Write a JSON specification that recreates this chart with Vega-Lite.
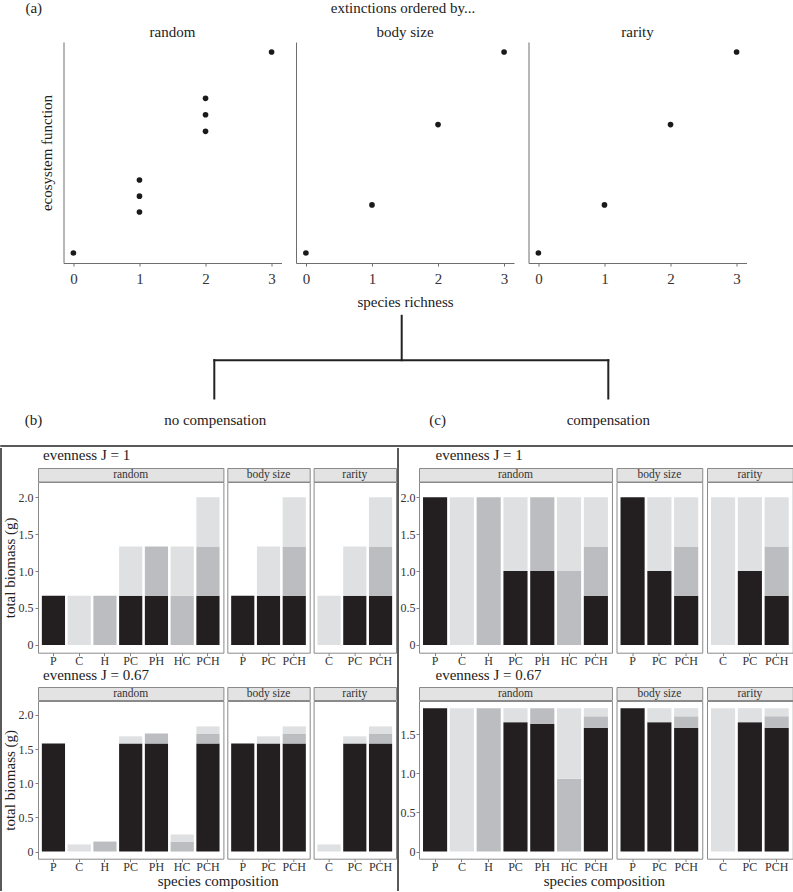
{
"$schema": "https://vega.github.io/schema/vega-lite/v6.json",
"padding": 0,
"background": "white",
"config": {
  "font": "Liberation Serif",
  "view": {"stroke": null},
  "title": {"fontSize": 15, "fontWeight": "normal", "color": "#222", "font": "Liberation Serif"},
  "axis": {"labelFont": "Liberation Serif", "titleFont": "Liberation Serif", "labelColor": "#333", "titleColor": "#222", "titleFontWeight": "normal", "grid": false},
  "text": {"font": "Liberation Serif"}
},
"datasets": {
  "scatter": [
    {"order": "random", "richness": 0, "ef": 0},
    {"order": "random", "richness": 1, "ef": 0.611},
    {"order": "random", "richness": 1, "ef": 0.848},
    {"order": "random", "richness": 1, "ef": 1.089},
    {"order": "random", "richness": 2, "ef": 1.816},
    {"order": "random", "richness": 2, "ef": 2.063},
    {"order": "random", "richness": 2, "ef": 2.309},
    {"order": "random", "richness": 3, "ef": 3},
    {"order": "body size", "richness": 0, "ef": 0},
    {"order": "body size", "richness": 1, "ef": 0.717},
    {"order": "body size", "richness": 2, "ef": 1.917},
    {"order": "body size", "richness": 3, "ef": 3},
    {"order": "rarity", "richness": 0, "ef": 0},
    {"order": "rarity", "richness": 1, "ef": 0.717},
    {"order": "rarity", "richness": 2, "ef": 1.917},
    {"order": "rarity", "richness": 3, "ef": 3}
  ],
  "border": [
    {"x": 0, "top": -20, "bottom": 423}
  ],
  "biomass": [
    {"box": "b", "J": "1", "comp": "P", "sp": "P", "v": 0.6667},
    {"box": "b", "J": "1", "comp": "C", "sp": "C", "v": 0.6667},
    {"box": "b", "J": "1", "comp": "H", "sp": "H", "v": 0.6667},
    {"box": "b", "J": "1", "comp": "PC", "sp": "P", "v": 0.6667},
    {"box": "b", "J": "1", "comp": "PC", "sp": "C", "v": 0.6667},
    {"box": "b", "J": "1", "comp": "PH", "sp": "P", "v": 0.6667},
    {"box": "b", "J": "1", "comp": "PH", "sp": "H", "v": 0.6667},
    {"box": "b", "J": "1", "comp": "HC", "sp": "H", "v": 0.6667},
    {"box": "b", "J": "1", "comp": "HC", "sp": "C", "v": 0.6667},
    {"box": "b", "J": "1", "comp": "PCH", "sp": "P", "v": 0.6667},
    {"box": "b", "J": "1", "comp": "PCH", "sp": "H", "v": 0.6667},
    {"box": "b", "J": "1", "comp": "PCH", "sp": "C", "v": 0.6667},
    {"box": "b", "J": "0.67", "comp": "P", "sp": "P", "v": 1.583},
    {"box": "b", "J": "0.67", "comp": "C", "sp": "C", "v": 0.104},
    {"box": "b", "J": "0.67", "comp": "H", "sp": "H", "v": 0.146},
    {"box": "b", "J": "0.67", "comp": "PC", "sp": "P", "v": 1.583},
    {"box": "b", "J": "0.67", "comp": "PC", "sp": "C", "v": 0.104},
    {"box": "b", "J": "0.67", "comp": "PH", "sp": "P", "v": 1.583},
    {"box": "b", "J": "0.67", "comp": "PH", "sp": "H", "v": 0.146},
    {"box": "b", "J": "0.67", "comp": "HC", "sp": "H", "v": 0.146},
    {"box": "b", "J": "0.67", "comp": "HC", "sp": "C", "v": 0.104},
    {"box": "b", "J": "0.67", "comp": "PCH", "sp": "P", "v": 1.583},
    {"box": "b", "J": "0.67", "comp": "PCH", "sp": "H", "v": 0.146},
    {"box": "b", "J": "0.67", "comp": "PCH", "sp": "C", "v": 0.104},
    {"box": "c", "J": "1", "comp": "P", "sp": "P", "v": 2},
    {"box": "c", "J": "1", "comp": "C", "sp": "C", "v": 2},
    {"box": "c", "J": "1", "comp": "H", "sp": "H", "v": 2},
    {"box": "c", "J": "1", "comp": "PC", "sp": "P", "v": 1},
    {"box": "c", "J": "1", "comp": "PC", "sp": "C", "v": 1},
    {"box": "c", "J": "1", "comp": "PH", "sp": "P", "v": 1},
    {"box": "c", "J": "1", "comp": "PH", "sp": "H", "v": 1},
    {"box": "c", "J": "1", "comp": "HC", "sp": "H", "v": 1},
    {"box": "c", "J": "1", "comp": "HC", "sp": "C", "v": 1},
    {"box": "c", "J": "1", "comp": "PCH", "sp": "P", "v": 0.6667},
    {"box": "c", "J": "1", "comp": "PCH", "sp": "H", "v": 0.6667},
    {"box": "c", "J": "1", "comp": "PCH", "sp": "C", "v": 0.6667},
    {"box": "c", "J": "0.67", "comp": "P", "sp": "P", "v": 1.833},
    {"box": "c", "J": "0.67", "comp": "C", "sp": "C", "v": 1.833},
    {"box": "c", "J": "0.67", "comp": "H", "sp": "H", "v": 1.833},
    {"box": "c", "J": "0.67", "comp": "PC", "sp": "P", "v": 1.654},
    {"box": "c", "J": "0.67", "comp": "PC", "sp": "C", "v": 0.179},
    {"box": "c", "J": "0.67", "comp": "PH", "sp": "P", "v": 1.633},
    {"box": "c", "J": "0.67", "comp": "PH", "sp": "H", "v": 0.2},
    {"box": "c", "J": "0.67", "comp": "HC", "sp": "H", "v": 0.931},
    {"box": "c", "J": "0.67", "comp": "HC", "sp": "C", "v": 0.902},
    {"box": "c", "J": "0.67", "comp": "PCH", "sp": "P", "v": 1.583},
    {"box": "c", "J": "0.67", "comp": "PCH", "sp": "H", "v": 0.146},
    {"box": "c", "J": "0.67", "comp": "PCH", "sp": "C", "v": 0.104}
  ]
},
"spacing": 0,
"vconcat": [
  {
    "width": 793, "height": 25,
    "data": {"values": [{"label": "(a)", "pos": 32.8}, {"label": "extinctions ordered by...", "pos": 402}]},
    "mark": {"type": "text", "fontSize": 15, "baseline": "alphabetic", "align": "center", "color": "#222", "font": "Liberation Serif"},
    "encoding": {
      "x": {"field": "pos", "type": "quantitative", "scale": {"domain": [0, 793], "nice": false, "zero": false}, "axis": null},
      "text": {"field": "label", "type": "nominal"}
    }
  },
  {
    "spacing": 14.5,
    "hconcat": [
      {"width": 22.3, "height": 1, "data": {"values": []}, "mark": "point"},
      {
        "width": 218, "height": 221,
        "title": {"text": "random", "anchor": "middle", "offset": 2, "font": "Liberation Serif"},
        "data": {"name": "scatter"},
        "transform": [{"filter": "datum.order == 'random'"}],
        "mark": {"type": "circle", "size": 32, "opacity": 1, "color": "#1a1a1a"},
        "encoding": {
          "x": {"field": "richness", "type": "quantitative", "scale": {"domain": [-0.15, 3.15], "nice": false, "zero": false},
                "axis": {"values": [0, 1, 2, 3], "format": "d", "title": null, "domainColor": "#6e6e6e", "tickColor": "#6e6e6e", "tickSize": 3, "labelFontSize": 15, "labelPadding": 5}},
          "y": {"field": "ef", "type": "quantitative", "scale": {"domain": [-0.15, 3.15], "nice": false, "zero": false},
                "axis": {"title": "ecosystem function", "labels": false, "ticks": false, "domainColor": "#6e6e6e", "titleFontSize": 15, "titlePadding": 9.2}}
        }
      },
      {
        "width": 218, "height": 221,
        "title": {"text": "body size", "anchor": "middle", "offset": 2, "font": "Liberation Serif"},
        "data": {"name": "scatter"},
        "transform": [{"filter": "datum.order == 'body size'"}],
        "mark": {"type": "circle", "size": 32, "opacity": 1, "color": "#1a1a1a"},
        "encoding": {
          "x": {"field": "richness", "type": "quantitative", "scale": {"domain": [-0.15, 3.15], "nice": false, "zero": false},
                "axis": {"values": [0, 1, 2, 3], "format": "d", "title": "species richness", "titleFontSize": 15, "titlePadding": 8.85, "domainColor": "#6e6e6e", "tickColor": "#6e6e6e", "tickSize": 3, "labelFontSize": 15, "labelPadding": 5}},
          "y": {"field": "ef", "type": "quantitative", "scale": {"domain": [-0.15, 3.15], "nice": false, "zero": false},
                "axis": {"title": null, "labels": false, "ticks": false, "domainColor": "#6e6e6e"}}
        }
      },
      {
        "width": 218, "height": 221,
        "title": {"text": "rarity", "anchor": "middle", "offset": 2, "font": "Liberation Serif"},
        "data": {"name": "scatter"},
        "transform": [{"filter": "datum.order == 'rarity'"}],
        "mark": {"type": "circle", "size": 32, "opacity": 1, "color": "#1a1a1a"},
        "encoding": {
          "x": {"field": "richness", "type": "quantitative", "scale": {"domain": [-0.15, 3.15], "nice": false, "zero": false},
                "axis": {"values": [0, 1, 2, 3], "format": "d", "title": null, "domainColor": "#6e6e6e", "tickColor": "#6e6e6e", "tickSize": 3, "labelFontSize": 15, "labelPadding": 5}},
          "y": {"field": "ef", "type": "quantitative", "scale": {"domain": [-0.15, 3.15], "nice": false, "zero": false},
                "axis": {"title": null, "labels": false, "ticks": false, "domainColor": "#6e6e6e"}}
        }
      }
    ]
  },
  {
    "width": 793, "height": 135,
    "layer": [
      {
        "data": {"values": [
          {"x": 400.7, "x2": 400.7, "y": 5.8, "y2": 50.2},
          {"x": 213.3, "x2": 607.3, "y": 50.2, "y2": 50.2},
          {"x": 213.3, "x2": 213.3, "y": 50.2, "y2": 88.5},
          {"x": 607.3, "x2": 607.3, "y": 50.2, "y2": 88.5}
        ]},
        "mark": {"type": "rule", "strokeWidth": 2, "color": "#222", "strokeCap": "square"},
        "encoding": {
          "x": {"field": "x", "type": "quantitative", "scale": {"domain": [0, 793], "nice": false, "zero": false}, "axis": null},
          "x2": {"field": "x2"},
          "y": {"field": "y", "type": "quantitative", "scale": {"domain": [0, 135], "reverse": true, "nice": false, "zero": false}, "axis": null},
          "y2": {"field": "y2"}
        }
      },
      {
        "data": {"values": [
          {"label": "(b)", "x": 32.5, "y": 115.2},
          {"label": "no compensation", "x": 214.2, "y": 115.2},
          {"label": "(c)", "x": 436.7, "y": 115.2},
          {"label": "compensation", "x": 607.3, "y": 115.2}
        ]},
        "mark": {"type": "text", "fontSize": 15, "baseline": "alphabetic", "align": "center", "color": "#222", "font": "Liberation Serif"},
        "encoding": {
          "x": {"field": "x", "type": "quantitative", "axis": null},
          "y": {"field": "y", "type": "quantitative", "axis": null},
          "text": {"field": "label", "type": "nominal"}
        }
      }
    ]
  },
  {
    "spacing": 0,
    "vconcat": [
      {"width": 793, "height": 0.01, "data": {"values": []}, "mark": "point", "view": {"stroke": "#222", "strokeWidth": 1.5}},
      {
        "spacing": 0,
        "hconcat": [
          {"width": 0.01, "height": 423, "data": {"name": "border"}, "mark": {"type": "rule", "strokeWidth": 1.5, "color": "#222"},
           "encoding": {"x": {"field": "x", "type": "quantitative", "scale": {"domain": [0, 1], "nice": false, "zero": false}, "axis": null},
                        "y": {"field": "top", "type": "quantitative", "scale": {"domain": [0, 423], "reverse": true, "nice": false, "zero": false}, "axis": null},
                        "y2": {"field": "bottom"}}},
          {
            "title": {"text": "species composition", "orient": "bottom", "anchor": "middle", "dx": 19, "offset": 1, "font": "Liberation Serif"},
            "spacing": 0,
            "vconcat": [
              {
                "title": {"text": "evenness J = 1", "anchor": "start", "dx": 41, "offset": 4.5, "font": "Liberation Serif"},
                "spacing": 2.3,
                "hconcat": [
                  {"spacing": -1, "vconcat": [
                    {"width": 185.4, "height": 13.5, "view": {"fill": "#e3e3e3", "stroke": "#8a8a8a"}, "data": {"values": [{"order": "random"}]}, "mark": {"type": "text", "fontSize": 11.5, "color": "#333", "font": "Liberation Serif"}, "encoding": {"text": {"field": "order", "type": "nominal"}}},
                    {"width": 185.4, "height": 170.7, "view": {"stroke": "#8a8a8a"}, "data": {"name": "biomass"},
                     "transform": [{"filter": "datum.box == 'b' && datum.J == '1'"}],
                     "mark": "bar",
                     "encoding": {
                       "x": {"field": "comp", "type": "nominal", "scale": {"domain": ["P", "C", "H", "PC", "PH", "HC", "PCH"], "paddingInner": 0.1, "paddingOuter": 0.15}, "axis": {"title": null, "domain": false, "tickColor": "#808080", "tickSize": 3, "labelPadding": 0, "labelAngle": 0, "labelFontSize": 12}},
                       "y": {"field": "v", "type": "quantitative", "stack": "zero", "scale": {"domain": [-0.105, 2.205], "nice": false, "zero": false}, "axis": {"title": "total biomass (g)", "titleFontSize": 15, "titlePadding": 0.5, "values": [0, 0.5, 1, 1.5, 2], "labelExpr": "datum.value == 0 ? '0' : format(datum.value, '.1f')", "domain": false, "tickColor": "#808080", "tickSize": 3, "labelPadding": 2, "labelFontSize": 12}},
                       "color": {"field": "sp", "type": "nominal", "scale": {"domain": ["P", "H", "C"], "range": ["#231f20", "#bcbdc0", "#dfe0e2"]}, "legend": null},
                       "order": {"field": "sp", "sort": "descending"}
                     }}
                  ]},
                  {"spacing": -1, "vconcat": [
                    {"width": 82.4, "height": 13.5, "view": {"fill": "#e3e3e3", "stroke": "#8a8a8a"}, "data": {"values": [{"order": "body size"}]}, "mark": {"type": "text", "fontSize": 11.5, "color": "#333", "font": "Liberation Serif"}, "encoding": {"text": {"field": "order", "type": "nominal"}}},
                    {"width": 82.4, "height": 170.7, "view": {"stroke": "#8a8a8a"}, "data": {"name": "biomass"},
                     "transform": [{"filter": "datum.box == 'b' && datum.J == '1'"}, {"filter": {"field": "comp", "oneOf": ["P", "PC", "PCH"]}}],
                     "mark": "bar",
                     "encoding": {
                       "x": {"field": "comp", "type": "nominal", "scale": {"domain": ["P", "PC", "PCH"], "paddingInner": 0.1, "paddingOuter": 0.15}, "axis": {"title": null, "domain": false, "tickColor": "#808080", "tickSize": 3, "labelPadding": 0, "labelAngle": 0, "labelFontSize": 12}},
                       "y": {"field": "v", "type": "quantitative", "stack": "zero", "scale": {"domain": [-0.105, 2.205], "nice": false, "zero": false}, "axis": null},
                       "color": {"field": "sp", "type": "nominal", "scale": {"domain": ["P", "H", "C"], "range": ["#231f20", "#bcbdc0", "#dfe0e2"]}, "legend": null},
                       "order": {"field": "sp", "sort": "descending"}
                     }}
                  ]},
                  {"spacing": -1, "vconcat": [
                    {"width": 82.4, "height": 13.5, "view": {"fill": "#e3e3e3", "stroke": "#8a8a8a"}, "data": {"values": [{"order": "rarity"}]}, "mark": {"type": "text", "fontSize": 11.5, "color": "#333", "font": "Liberation Serif"}, "encoding": {"text": {"field": "order", "type": "nominal"}}},
                    {"width": 82.4, "height": 170.7, "view": {"stroke": "#8a8a8a"}, "data": {"name": "biomass"},
                     "transform": [{"filter": "datum.box == 'b' && datum.J == '1'"}, {"filter": {"field": "comp", "oneOf": ["C", "PC", "PCH"]}}],
                     "mark": "bar",
                     "encoding": {
                       "x": {"field": "comp", "type": "nominal", "scale": {"domain": ["C", "PC", "PCH"], "paddingInner": 0.1, "paddingOuter": 0.15}, "axis": {"title": null, "domain": false, "tickColor": "#808080", "tickSize": 3, "labelPadding": 0, "labelAngle": 0, "labelFontSize": 12}},
                       "y": {"field": "v", "type": "quantitative", "stack": "zero", "scale": {"domain": [-0.105, 2.205], "nice": false, "zero": false}, "axis": null},
                       "color": {"field": "sp", "type": "nominal", "scale": {"domain": ["P", "H", "C"], "range": ["#231f20", "#bcbdc0", "#dfe0e2"]}, "legend": null},
                       "order": {"field": "sp", "sort": "descending"}
                     }}
                  ]}
                ]
              },
              {
                "title": {"text": "evenness J = 0.67", "anchor": "start", "dx": 41, "offset": 3.5, "font": "Liberation Serif"},
                "spacing": 2.3,
                "hconcat": [
                  {"spacing": -1, "vconcat": [
                    {"width": 185.4, "height": 13, "view": {"fill": "#e3e3e3", "stroke": "#8a8a8a"}, "data": {"values": [{"order": "random"}]}, "mark": {"type": "text", "fontSize": 11.5, "color": "#333", "font": "Liberation Serif"}, "encoding": {"text": {"field": "order", "type": "nominal"}}},
                    {"width": 185.4, "height": 157.7, "view": {"stroke": "#8a8a8a"}, "data": {"name": "biomass"},
                     "transform": [{"filter": "datum.box == 'b' && datum.J == '0.67'"}],
                     "mark": "bar",
                     "encoding": {
                       "x": {"field": "comp", "type": "nominal", "scale": {"domain": ["P", "C", "H", "PC", "PH", "HC", "PCH"], "paddingInner": 0.1, "paddingOuter": 0.15}, "axis": {"title": null, "domain": false, "tickColor": "#808080", "tickSize": 3, "labelPadding": 0, "labelAngle": 0, "labelFontSize": 12}},
                       "y": {"field": "v", "type": "quantitative", "stack": "zero", "scale": {"domain": [-0.105, 2.205], "nice": false, "zero": false}, "axis": {"title": "total biomass (g)", "titleFontSize": 15, "titlePadding": 0.5, "values": [0, 0.5, 1, 1.5, 2], "labelExpr": "datum.value == 0 ? '0' : format(datum.value, '.1f')", "domain": false, "tickColor": "#808080", "tickSize": 3, "labelPadding": 2, "labelFontSize": 12}},
                       "color": {"field": "sp", "type": "nominal", "scale": {"domain": ["P", "H", "C"], "range": ["#231f20", "#bcbdc0", "#dfe0e2"]}, "legend": null},
                       "order": {"field": "sp", "sort": "descending"}
                     }}
                  ]},
                  {"spacing": -1, "vconcat": [
                    {"width": 82.4, "height": 13, "view": {"fill": "#e3e3e3", "stroke": "#8a8a8a"}, "data": {"values": [{"order": "body size"}]}, "mark": {"type": "text", "fontSize": 11.5, "color": "#333", "font": "Liberation Serif"}, "encoding": {"text": {"field": "order", "type": "nominal"}}},
                    {"width": 82.4, "height": 157.7, "view": {"stroke": "#8a8a8a"}, "data": {"name": "biomass"},
                     "transform": [{"filter": "datum.box == 'b' && datum.J == '0.67'"}, {"filter": {"field": "comp", "oneOf": ["P", "PC", "PCH"]}}],
                     "mark": "bar",
                     "encoding": {
                       "x": {"field": "comp", "type": "nominal", "scale": {"domain": ["P", "PC", "PCH"], "paddingInner": 0.1, "paddingOuter": 0.15}, "axis": {"title": null, "domain": false, "tickColor": "#808080", "tickSize": 3, "labelPadding": 0, "labelAngle": 0, "labelFontSize": 12}},
                       "y": {"field": "v", "type": "quantitative", "stack": "zero", "scale": {"domain": [-0.105, 2.205], "nice": false, "zero": false}, "axis": null},
                       "color": {"field": "sp", "type": "nominal", "scale": {"domain": ["P", "H", "C"], "range": ["#231f20", "#bcbdc0", "#dfe0e2"]}, "legend": null},
                       "order": {"field": "sp", "sort": "descending"}
                     }}
                  ]},
                  {"spacing": -1, "vconcat": [
                    {"width": 82.4, "height": 13, "view": {"fill": "#e3e3e3", "stroke": "#8a8a8a"}, "data": {"values": [{"order": "rarity"}]}, "mark": {"type": "text", "fontSize": 11.5, "color": "#333", "font": "Liberation Serif"}, "encoding": {"text": {"field": "order", "type": "nominal"}}},
                    {"width": 82.4, "height": 157.7, "view": {"stroke": "#8a8a8a"}, "data": {"name": "biomass"},
                     "transform": [{"filter": "datum.box == 'b' && datum.J == '0.67'"}, {"filter": {"field": "comp", "oneOf": ["C", "PC", "PCH"]}}],
                     "mark": "bar",
                     "encoding": {
                       "x": {"field": "comp", "type": "nominal", "scale": {"domain": ["C", "PC", "PCH"], "paddingInner": 0.1, "paddingOuter": 0.15}, "axis": {"title": null, "domain": false, "tickColor": "#808080", "tickSize": 3, "labelPadding": 0, "labelAngle": 0, "labelFontSize": 12}},
                       "y": {"field": "v", "type": "quantitative", "stack": "zero", "scale": {"domain": [-0.105, 2.205], "nice": false, "zero": false}, "axis": null},
                       "color": {"field": "sp", "type": "nominal", "scale": {"domain": ["P", "H", "C"], "range": ["#231f20", "#bcbdc0", "#dfe0e2"]}, "legend": null},
                       "order": {"field": "sp", "sort": "descending"}
                     }}
                  ]}
                ]
              }
            ]
          },
          {"width": 0.01, "height": 423, "data": {"name": "border"}, "mark": {"type": "rule", "strokeWidth": 1.5, "color": "#222"},
           "encoding": {"x": {"field": "x", "type": "quantitative", "scale": {"domain": [0, 1], "nice": false, "zero": false}, "axis": null},
                        "y": {"field": "top", "type": "quantitative", "scale": {"domain": [0, 423], "reverse": true, "nice": false, "zero": false}, "axis": null},
                        "y2": {"field": "bottom"}}},
          {
            "title": {"text": "species composition", "orient": "bottom", "anchor": "middle", "dx": 8, "offset": 1, "font": "Liberation Serif"},
            "spacing": 0,
            "vconcat": [
              {
                "title": {"text": "evenness J = 1", "anchor": "start", "dx": 36, "offset": 4.5, "font": "Liberation Serif"},
                "spacing": 2.5,
                "hconcat": [
                  {"spacing": -1, "vconcat": [
                    {"width": 192.96, "height": 13.5, "view": {"fill": "#e3e3e3", "stroke": "#8a8a8a"}, "data": {"values": [{"order": "random"}]}, "mark": {"type": "text", "fontSize": 11.5, "color": "#333", "font": "Liberation Serif"}, "encoding": {"text": {"field": "order", "type": "nominal"}}},
                    {"width": 192.96, "height": 170.7, "view": {"stroke": "#8a8a8a"}, "data": {"name": "biomass"},
                     "transform": [{"filter": "datum.box == 'c' && datum.J == '1'"}],
                     "mark": "bar",
                     "encoding": {
                       "x": {"field": "comp", "type": "nominal", "scale": {"domain": ["P", "C", "H", "PC", "PH", "HC", "PCH"], "paddingInner": 0.1, "paddingOuter": 0.15}, "axis": {"title": null, "domain": false, "tickColor": "#808080", "tickSize": 3, "labelPadding": 0, "labelAngle": 0, "labelFontSize": 12}},
                       "y": {"field": "v", "type": "quantitative", "stack": "zero", "scale": {"domain": [-0.105, 2.205], "nice": false, "zero": false}, "axis": {"title": null, "values": [0, 0.5, 1, 1.5, 2], "labelExpr": "datum.value == 0 ? '0' : format(datum.value, '.1f')", "domain": false, "tickColor": "#808080", "tickSize": 3, "labelPadding": 1, "labelFontSize": 12}},
                       "color": {"field": "sp", "type": "nominal", "scale": {"domain": ["P", "H", "C"], "range": ["#231f20", "#bcbdc0", "#dfe0e2"]}, "legend": null},
                       "order": {"field": "sp", "sort": "descending"}
                     }}
                  ]},
                  {"spacing": -1, "vconcat": [
                    {"width": 85.76, "height": 13.5, "view": {"fill": "#e3e3e3", "stroke": "#8a8a8a"}, "data": {"values": [{"order": "body size"}]}, "mark": {"type": "text", "fontSize": 11.5, "color": "#333", "font": "Liberation Serif"}, "encoding": {"text": {"field": "order", "type": "nominal"}}},
                    {"width": 85.76, "height": 170.7, "view": {"stroke": "#8a8a8a"}, "data": {"name": "biomass"},
                     "transform": [{"filter": "datum.box == 'c' && datum.J == '1'"}, {"filter": {"field": "comp", "oneOf": ["P", "PC", "PCH"]}}],
                     "mark": "bar",
                     "encoding": {
                       "x": {"field": "comp", "type": "nominal", "scale": {"domain": ["P", "PC", "PCH"], "paddingInner": 0.1, "paddingOuter": 0.15}, "axis": {"title": null, "domain": false, "tickColor": "#808080", "tickSize": 3, "labelPadding": 0, "labelAngle": 0, "labelFontSize": 12}},
                       "y": {"field": "v", "type": "quantitative", "stack": "zero", "scale": {"domain": [-0.105, 2.205], "nice": false, "zero": false}, "axis": null},
                       "color": {"field": "sp", "type": "nominal", "scale": {"domain": ["P", "H", "C"], "range": ["#231f20", "#bcbdc0", "#dfe0e2"]}, "legend": null},
                       "order": {"field": "sp", "sort": "descending"}
                     }}
                  ]},
                  {"spacing": -1, "vconcat": [
                    {"width": 85.76, "height": 13.5, "view": {"fill": "#e3e3e3", "stroke": "#8a8a8a"}, "data": {"values": [{"order": "rarity"}]}, "mark": {"type": "text", "fontSize": 11.5, "color": "#333", "font": "Liberation Serif"}, "encoding": {"text": {"field": "order", "type": "nominal"}}},
                    {"width": 85.76, "height": 170.7, "view": {"stroke": "#8a8a8a"}, "data": {"name": "biomass"},
                     "transform": [{"filter": "datum.box == 'c' && datum.J == '1'"}, {"filter": {"field": "comp", "oneOf": ["C", "PC", "PCH"]}}],
                     "mark": "bar",
                     "encoding": {
                       "x": {"field": "comp", "type": "nominal", "scale": {"domain": ["C", "PC", "PCH"], "paddingInner": 0.1, "paddingOuter": 0.15}, "axis": {"title": null, "domain": false, "tickColor": "#808080", "tickSize": 3, "labelPadding": 0, "labelAngle": 0, "labelFontSize": 12}},
                       "y": {"field": "v", "type": "quantitative", "stack": "zero", "scale": {"domain": [-0.105, 2.205], "nice": false, "zero": false}, "axis": null},
                       "color": {"field": "sp", "type": "nominal", "scale": {"domain": ["P", "H", "C"], "range": ["#231f20", "#bcbdc0", "#dfe0e2"]}, "legend": null},
                       "order": {"field": "sp", "sort": "descending"}
                     }}
                  ]}
                ]
              },
              {
                "title": {"text": "evenness J = 0.67", "anchor": "start", "dx": 36, "offset": 3.5, "font": "Liberation Serif"},
                "spacing": 2.5,
                "hconcat": [
                  {"spacing": -1, "vconcat": [
                    {"width": 192.96, "height": 13, "view": {"fill": "#e3e3e3", "stroke": "#8a8a8a"}, "data": {"values": [{"order": "random"}]}, "mark": {"type": "text", "fontSize": 11.5, "color": "#333", "font": "Liberation Serif"}, "encoding": {"text": {"field": "order", "type": "nominal"}}},
                    {"width": 192.96, "height": 157.7, "view": {"stroke": "#8a8a8a"}, "data": {"name": "biomass"},
                     "transform": [{"filter": "datum.box == 'c' && datum.J == '0.67'"}],
                     "mark": "bar",
                     "encoding": {
                       "x": {"field": "comp", "type": "nominal", "scale": {"domain": ["P", "C", "H", "PC", "PH", "HC", "PCH"], "paddingInner": 0.1, "paddingOuter": 0.15}, "axis": {"title": null, "domain": false, "tickColor": "#808080", "tickSize": 3, "labelPadding": 0, "labelAngle": 0, "labelFontSize": 12}},
                       "y": {"field": "v", "type": "quantitative", "stack": "zero", "scale": {"domain": [-0.0917, 1.9247], "nice": false, "zero": false}, "axis": {"title": null, "values": [0, 0.5, 1, 1.5], "labelExpr": "datum.value == 0 ? '0' : format(datum.value, '.1f')", "domain": false, "tickColor": "#808080", "tickSize": 3, "labelPadding": 1, "labelFontSize": 12}},
                       "color": {"field": "sp", "type": "nominal", "scale": {"domain": ["P", "H", "C"], "range": ["#231f20", "#bcbdc0", "#dfe0e2"]}, "legend": null},
                       "order": {"field": "sp", "sort": "descending"}
                     }}
                  ]},
                  {"spacing": -1, "vconcat": [
                    {"width": 85.76, "height": 13, "view": {"fill": "#e3e3e3", "stroke": "#8a8a8a"}, "data": {"values": [{"order": "body size"}]}, "mark": {"type": "text", "fontSize": 11.5, "color": "#333", "font": "Liberation Serif"}, "encoding": {"text": {"field": "order", "type": "nominal"}}},
                    {"width": 85.76, "height": 157.7, "view": {"stroke": "#8a8a8a"}, "data": {"name": "biomass"},
                     "transform": [{"filter": "datum.box == 'c' && datum.J == '0.67'"}, {"filter": {"field": "comp", "oneOf": ["P", "PC", "PCH"]}}],
                     "mark": "bar",
                     "encoding": {
                       "x": {"field": "comp", "type": "nominal", "scale": {"domain": ["P", "PC", "PCH"], "paddingInner": 0.1, "paddingOuter": 0.15}, "axis": {"title": null, "domain": false, "tickColor": "#808080", "tickSize": 3, "labelPadding": 0, "labelAngle": 0, "labelFontSize": 12}},
                       "y": {"field": "v", "type": "quantitative", "stack": "zero", "scale": {"domain": [-0.0917, 1.9247], "nice": false, "zero": false}, "axis": null},
                       "color": {"field": "sp", "type": "nominal", "scale": {"domain": ["P", "H", "C"], "range": ["#231f20", "#bcbdc0", "#dfe0e2"]}, "legend": null},
                       "order": {"field": "sp", "sort": "descending"}
                     }}
                  ]},
                  {"spacing": -1, "vconcat": [
                    {"width": 85.76, "height": 13, "view": {"fill": "#e3e3e3", "stroke": "#8a8a8a"}, "data": {"values": [{"order": "rarity"}]}, "mark": {"type": "text", "fontSize": 11.5, "color": "#333", "font": "Liberation Serif"}, "encoding": {"text": {"field": "order", "type": "nominal"}}},
                    {"width": 85.76, "height": 157.7, "view": {"stroke": "#8a8a8a"}, "data": {"name": "biomass"},
                     "transform": [{"filter": "datum.box == 'c' && datum.J == '0.67'"}, {"filter": {"field": "comp", "oneOf": ["C", "PC", "PCH"]}}],
                     "mark": "bar",
                     "encoding": {
                       "x": {"field": "comp", "type": "nominal", "scale": {"domain": ["C", "PC", "PCH"], "paddingInner": 0.1, "paddingOuter": 0.15}, "axis": {"title": null, "domain": false, "tickColor": "#808080", "tickSize": 3, "labelPadding": 0, "labelAngle": 0, "labelFontSize": 12}},
                       "y": {"field": "v", "type": "quantitative", "stack": "zero", "scale": {"domain": [-0.0917, 1.9247], "nice": false, "zero": false}, "axis": null},
                       "color": {"field": "sp", "type": "nominal", "scale": {"domain": ["P", "H", "C"], "range": ["#231f20", "#bcbdc0", "#dfe0e2"]}, "legend": null},
                       "order": {"field": "sp", "sort": "descending"}
                     }}
                  ]}
                ]
              }
            ]
          },
          {"width": 0.01, "height": 423, "data": {"name": "border"}, "mark": {"type": "rule", "strokeWidth": 1.5, "color": "#222"},
           "encoding": {"x": {"field": "x", "type": "quantitative", "scale": {"domain": [0, 1], "nice": false, "zero": false}, "axis": null},
                        "y": {"field": "top", "type": "quantitative", "scale": {"domain": [0, 423], "reverse": true, "nice": false, "zero": false}, "axis": null},
                        "y2": {"field": "bottom"}}}
        ]
      },
      {"width": 793, "height": 0.01, "data": {"values": []}, "mark": "point", "view": {"stroke": "#222", "strokeWidth": 1.5}}
    ]
  }
]
}
